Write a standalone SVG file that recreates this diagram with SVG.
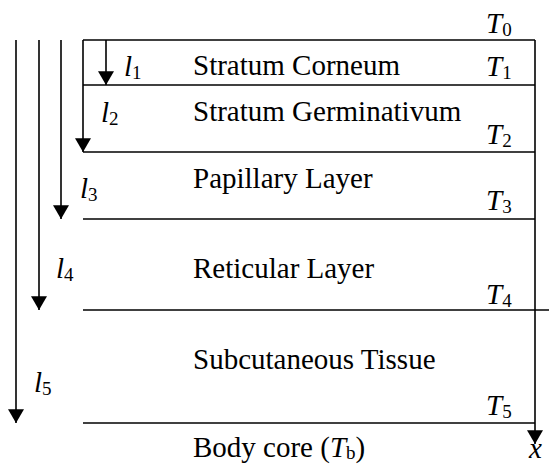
<svg xmlns="http://www.w3.org/2000/svg" width="549" height="465" viewBox="0 0 549 465">
<style>
  .ln { stroke: #000; stroke-width: 1.6; fill: none; }
  .arr { stroke: #000; stroke-width: 1.6; fill: none; marker-end: url(#ah); }
  .it { font-style: italic; }
  .sub { font-size: 19px; font-style: normal; }
</style>
<defs>
  <marker id="ah" markerUnits="userSpaceOnUse" markerWidth="16" markerHeight="16" viewBox="0 0 14 15" refX="13" refY="7.5" orient="auto">
    <path d="M0,0 L13,7.5 L0,15 Z" fill="#000"/>
  </marker>
</defs>
<rect width="549" height="465" fill="#fff"/>

<g id="connectors">
  <line class="ln" x1="83" y1="40" x2="535" y2="40"/>
  <line class="ln" x1="83" y1="85" x2="535" y2="85"/>
  <line class="ln" x1="83" y1="152" x2="535" y2="152"/>
  <line class="ln" x1="83" y1="219" x2="535" y2="219"/>
  <line class="ln" x1="83" y1="310" x2="549" y2="310"/>
  <line class="ln" x1="83" y1="423" x2="535" y2="423"/>
  <line class="arr" x1="535" y1="40" x2="535" y2="444"/>
  <line class="arr" x1="106" y1="40" x2="106" y2="85"/>
  <line class="arr" x1="83" y1="40" x2="83" y2="152"/>
  <line class="arr" x1="61" y1="40" x2="61" y2="219"/>
  <line class="arr" x1="39" y1="40" x2="39" y2="310"/>
  <line class="arr" x1="16" y1="40" x2="16" y2="423"/>
</g>

<g font-family="Liberation Serif, Times New Roman, serif" font-size="29" fill="#000">
<g id="layer-stratum-corneum">
  <text font-family="Liberation Serif" font-size="29" x="193" y="75">Stratum Corneum</text>
  <text font-family="Liberation Serif" font-size="29" class="it" x="124" y="76">l<tspan class="sub" dy="3">1</tspan></text>
</g>
<g id="layer-stratum-germinativum">
  <text font-family="Liberation Serif" font-size="29" x="193" y="121">Stratum Germinativum</text>
  <text font-family="Liberation Serif" font-size="29" class="it" x="101" y="122">l<tspan class="sub" dy="3">2</tspan></text>
</g>
<g id="layer-papillary">
  <text font-family="Liberation Serif" font-size="29" x="193" y="188">Papillary Layer</text>
  <text font-family="Liberation Serif" font-size="29" class="it" x="80" y="198">l<tspan class="sub" dy="3">3</tspan></text>
</g>
<g id="layer-reticular">
  <text font-family="Liberation Serif" font-size="29" x="193" y="278">Reticular Layer</text>
  <text font-family="Liberation Serif" font-size="29" class="it" x="56" y="278">l<tspan class="sub" dy="3">4</tspan></text>
</g>
<g id="layer-subcutaneous">
  <text font-family="Liberation Serif" font-size="29" x="193" y="369">Subcutaneous Tissue</text>
  <text font-family="Liberation Serif" font-size="29" class="it" x="34" y="392">l<tspan class="sub" dy="3">5</tspan></text>
</g>
<g id="body-core">
  <text font-family="Liberation Serif" font-size="29" x="193" y="457">Body core (<tspan class="it">T</tspan><tspan class="sub" dy="2">b</tspan><tspan dy="-2">)</tspan></text>
</g>

<g id="temperatures">
  <text font-family="Liberation Serif" font-size="29" class="it" x="486" y="33">T<tspan class="sub" dy="3">0</tspan></text>
  <text font-family="Liberation Serif" font-size="29" class="it" x="486" y="76">T<tspan class="sub" dy="3">1</tspan></text>
  <text font-family="Liberation Serif" font-size="29" class="it" x="486" y="144">T<tspan class="sub" dy="3">2</tspan></text>
  <text font-family="Liberation Serif" font-size="29" class="it" x="486" y="210">T<tspan class="sub" dy="3">3</tspan></text>
  <text font-family="Liberation Serif" font-size="29" class="it" x="486" y="304">T<tspan class="sub" dy="3">4</tspan></text>
  <text font-family="Liberation Serif" font-size="29" class="it" x="486" y="415">T<tspan class="sub" dy="3">5</tspan></text>
  <text font-family="Liberation Serif" font-size="29" class="it" x="529" y="458">x</text>
</g>
</g>
</svg>
